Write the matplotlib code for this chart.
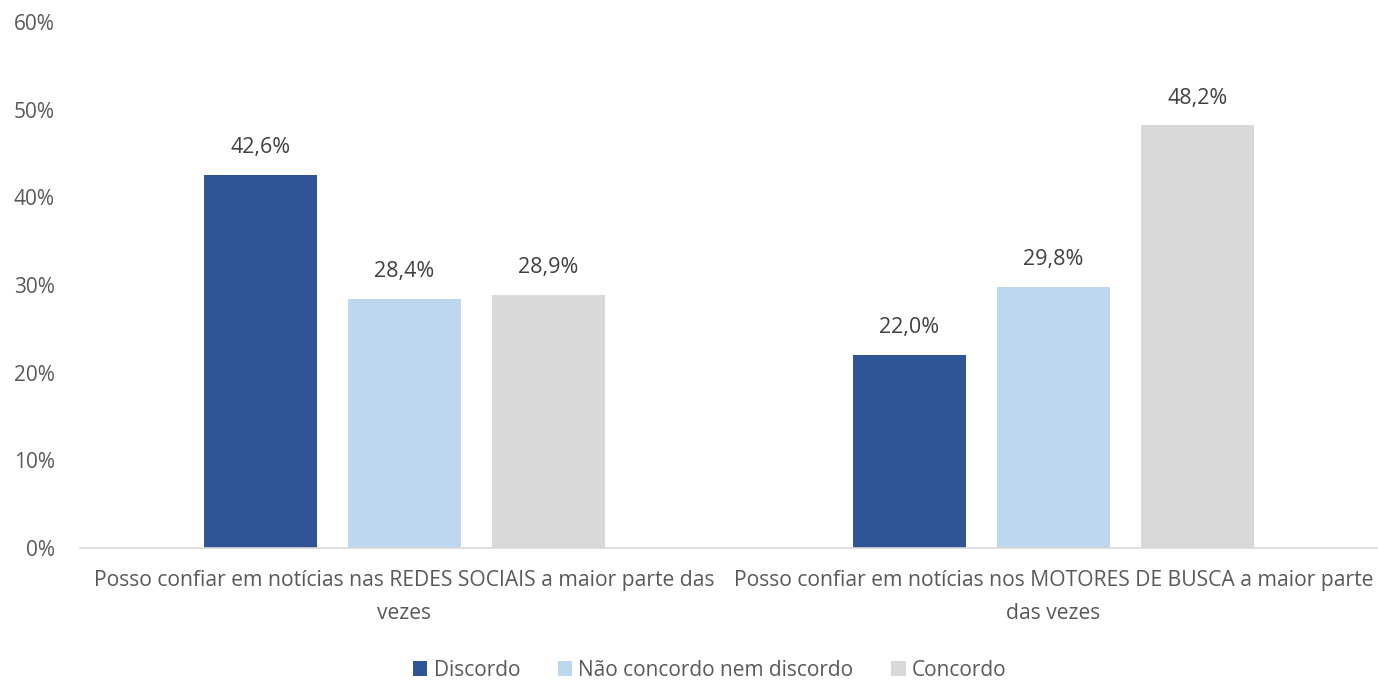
import matplotlib
matplotlib.use("Agg")
import matplotlib.pyplot as plt
import numpy as np
from matplotlib.ticker import FuncFormatter

categories = [
    "Posso confiar em notícias nas REDES SOCIAIS a maior parte das\nvezes",
    "Posso confiar em notícias nos MOTORES DE BUSCA a maior parte\ndas vezes",
]
series_names = ["Discordo", "Não concordo nem discordo", "Concordo"]
discordo = [42.6, 22.0]
neutro = [28.4, 29.8]
concordo = [28.9, 48.2]
series_values = [discordo, neutro, concordo]
colors = ["#2F5597", "#BDD7EE", "#D9D9D9"]
yticks = [0, 10, 20, 30, 40, 50, 60]

plt.rcParams["font.family"] = ["Open Sans", "DejaVu Sans"]
text_color = "#595959"

fig = plt.figure(figsize=(13.78, 6.81), dpi=100)
ax = fig.add_axes([0.058, 0.1953, 0.942, 0.7724])

x = np.arange(len(categories))
width = 0.174
step = 0.222
for i, (name, vals, col) in enumerate(zip(series_names, series_values, colors)):
    pos = x + (i - 1) * step
    bars = ax.bar(pos, vals, width=width, color=col, label=name, zorder=2)
    for b, v in zip(bars, vals):
        ax.text(b.get_x() + b.get_width() / 2, v + 1.9,
                f"{v:.1f}%".replace(".", ","), ha="center", va="bottom",
                fontsize=15.5, color="#404040")

ax.set_xlim(-0.5, 1.5)
ax.set_ylim(0, 60)
ax.set_yticks(yticks)
ax.yaxis.set_major_formatter(FuncFormatter(lambda v, p: f"{int(v)}%"))
ax.set_xticks(x)
ax.set_xticklabels(categories, fontsize=15.2, color=text_color, linespacing=1.75)
ax.tick_params(axis="y", labelsize=15, labelcolor=text_color, length=0, pad=18)
ax.tick_params(axis="x", length=0, pad=16)

for s in ["top", "right", "left"]:
    ax.spines[s].set_visible(False)
ax.spines["bottom"].set_color("#D9D9D9")
ax.spines["bottom"].set_linewidth(1.2)

fig.legend(loc="center", bbox_to_anchor=(0.515, 0.016), ncol=3, frameon=False,
           fontsize=15, labelcolor=text_color, handlelength=0.7, handleheight=0.7,
           handletextpad=0.3, columnspacing=1.8)

fig.savefig("out.png", dpi=100)
